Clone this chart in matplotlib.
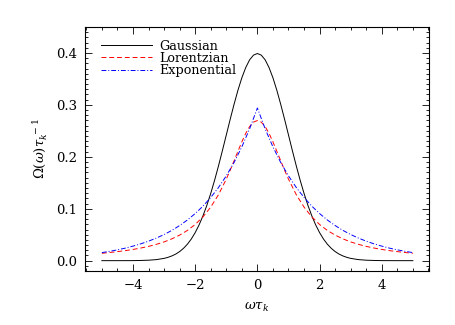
import numpy as np
import matplotlib
matplotlib.use("Agg")
import matplotlib.pyplot as plt
from matplotlib.ticker import MultipleLocator

# Gaussian: x grid (finer near the peak)
gauss_x = [-5.0, -4.5, -4.0, -3.75, -3.5, -3.25, -3.0, -2.875, -2.75, -2.625,
           -2.5, -2.375, -2.25, -2.125, -2.0, -1.875, -1.75, -1.625, -1.5, -1.375,
           -1.25, -1.125, -1.0, -0.875, -0.75, -0.625, -0.5, -0.375, -0.25, -0.125,
           0.0, 0.125, 0.25, 0.375, 0.5, 0.625, 0.75, 0.875, 1.0, 1.125,
           1.25, 1.375, 1.5, 1.625, 1.75, 1.875, 2.0, 2.125, 2.25, 2.375,
           2.5, 2.625, 2.75, 2.875, 3.0, 3.25, 3.5, 3.75, 4.0, 4.5, 5.0]
gaussian = [0.0, 0.0, 0.0001, 0.0004, 0.0009, 0.0020, 0.0044, 0.0064, 0.0091, 0.0127,
            0.0175, 0.0238, 0.0317, 0.0417, 0.0540, 0.0688, 0.0863, 0.1065, 0.1295, 0.1550,
            0.1826, 0.2119, 0.2420, 0.2721, 0.3011, 0.3282, 0.3521, 0.3718, 0.3867, 0.3958,
            0.3989, 0.3958, 0.3867, 0.3718, 0.3521, 0.3282, 0.3011, 0.2721, 0.2420, 0.2119,
            0.1826, 0.1550, 0.1295, 0.1065, 0.0863, 0.0688, 0.0540, 0.0417, 0.0317, 0.0238,
            0.0175, 0.0127, 0.0091, 0.0064, 0.0044, 0.0020, 0.0009, 0.0004, 0.0001, 0.0, 0.0]

# Lorentzian
lor_x = [-5.0, -4.75, -4.5, -4.25, -4.0, -3.75, -3.5, -3.25, -3.0, -2.75,
         -2.5, -2.25, -2.0, -1.75, -1.5, -1.25, -1.0, -0.875, -0.75, -0.625,
         -0.5, -0.375, -0.25, -0.125, 0.0, 0.125, 0.25, 0.375, 0.5, 0.625,
         0.75, 0.875, 1.0, 1.25, 1.5, 1.75, 2.0, 2.25, 2.5, 2.75,
         3.0, 3.25, 3.5, 3.75, 4.0, 4.25, 4.5, 4.75, 5.0]
lorentzian = [0.0142, 0.0157, 0.0174, 0.0193, 0.0216, 0.0243, 0.0275, 0.0314, 0.0361, 0.0420,
              0.0492, 0.0582, 0.0697, 0.0843, 0.1031, 0.1271, 0.1570, 0.1741, 0.1922, 0.2107,
              0.2287, 0.2451, 0.2582, 0.2668, 0.2698, 0.2668, 0.2582, 0.2451, 0.2287, 0.2107,
              0.1922, 0.1741, 0.1570, 0.1271, 0.1031, 0.0843, 0.0697, 0.0582, 0.0492, 0.0420,
              0.0361, 0.0314, 0.0275, 0.0243, 0.0216, 0.0193, 0.0174, 0.0157, 0.0142]

# Exponential
exp_x = [-5.0, -4.75, -4.5, -4.25, -4.0, -3.75, -3.5, -3.25, -3.0, -2.75,
         -2.5, -2.25, -2.0, -1.75, -1.5, -1.25, -1.0, -0.75, -0.5, -0.25,
         0.0, 0.25, 0.5, 0.75, 1.0, 1.25, 1.5, 1.75, 2.0, 2.25,
         2.5, 2.75, 3.0, 3.25, 3.5, 3.75, 4.0, 4.25, 4.5, 4.75, 5.0]
exponential = [0.0155, 0.0180, 0.0208, 0.0241, 0.0280, 0.0324, 0.0375, 0.0435, 0.0503, 0.0583,
               0.0676, 0.0783, 0.0907, 0.1050, 0.1217, 0.1409, 0.1633, 0.1891, 0.2191, 0.2538,
               0.2940, 0.2538, 0.2191, 0.1891, 0.1633, 0.1409, 0.1217, 0.1050, 0.0907, 0.0783,
               0.0676, 0.0583, 0.0503, 0.0435, 0.0375, 0.0324, 0.0280, 0.0241, 0.0208, 0.0180, 0.0155]

labels = ["Gaussian", "Lorentzian", "Exponential"]
x_ticks = [-4, -2, 0, 2, 4]
y_ticks = [0.0, 0.1, 0.2, 0.3, 0.4]

plt.rcParams['font.family'] = ['DejaVu Serif']
plt.rcParams['mathtext.fontset'] = 'dejavuserif'

fig = plt.figure(figsize=(4.55, 3.25), dpi=100)
ax = fig.add_axes([0.187, 0.166, 0.756, 0.751])

ax.plot(gauss_x, gaussian, color='black', lw=0.7, label=labels[0])
ax.plot(lor_x, lorentzian, color='red', lw=0.7, dashes=(5, 3), label=labels[1])
ax.plot(exp_x, exponential, color='blue', lw=0.7, dashes=(5, 2, 1, 2), label=labels[2])

ax.set_xlim(-5.54, 5.52)
ax.set_ylim(-0.02, 0.45)
ax.set_xticks(x_ticks)
ax.set_xticklabels(['\u2212' + str(-t) if t < 0 else str(t) for t in x_ticks])
ax.set_yticks(y_ticks)
ax.set_yticklabels(['%.1f' % t for t in y_ticks])
ax.xaxis.set_minor_locator(MultipleLocator(0.5))
ax.yaxis.set_minor_locator(MultipleLocator(0.01))
ax.tick_params(which='both', direction='in', top=True, right=True, width=0.6, labelsize=9.5)
ax.tick_params(which='major', length=5, pad=6)
ax.tick_params(which='minor', length=2.5)
for s in ax.spines.values():
    s.set_linewidth(0.8)

ax.set_xlabel(r'$\omega\tau_k$', fontsize=9.5, labelpad=6)
ax.set_ylabel(r'$\Omega(\omega)\tau_k^{\ -1}$', fontsize=9.5, labelpad=4)

ax.legend(loc='upper left', frameon=False, fontsize=9.2, handlelength=4.0,
          handletextpad=0.6, labelspacing=-0.05, borderaxespad=0.3,
          bbox_to_anchor=(0.02, 0.985))

fig.savefig('out.png', dpi=100)
